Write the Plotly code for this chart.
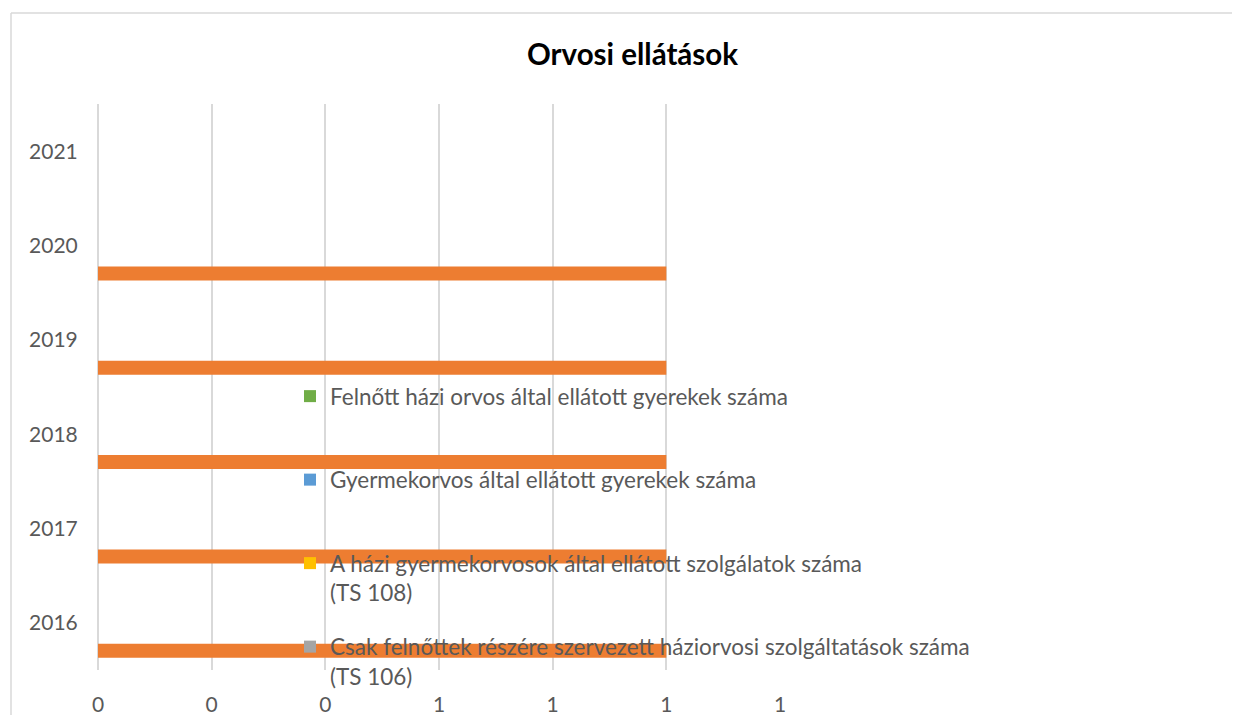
import plotly.graph_objects as go

years = ["2016", "2017", "2018", "2019", "2020", "2021"]

# order: bottom bar first (orange), then the empty series
series_names = [
    "Háziorvosi szolgálatok száma",
    "Felnőtt házi orvos által ellátott gyerekek száma<br> ",
    "Gyermekorvos által ellátott gyerekek száma<br> ",
    "A házi gyermekorvosok által ellátott szolgálatok száma<br>(TS 108)",
    "Csak felnőttek részére szervezett háziorvosi szolgáltatások száma<br>(TS 106)",
]
series_values = [
    [1, 1, 1, 1, 1, None],
    [None, None, None, None, None, None],
    [None, None, None, None, None, None],
    [None, None, None, None, None, None],
    [None, None, None, None, None, None],
]
series_colors = ["#ED7D31", "#70AD47", "#5B9BD5", "#FFC000", "#A5A5A5"]
show_in_legend = [False, True, True, True, True]
legend_ranks = [5, 1, 2, 3, 4]

x_ticks = [0, 0.2, 0.4, 0.6, 0.8, 1.0, 1.2]

FONT = "Lato"
W, H = 1224, 707
# the page body has an 8px margin; coordinates below are figure coordinates
L, R, T, B = 90, 772, 96, 662

fig = go.Figure()
for i, (name, vals, col) in enumerate(zip(series_names, series_values, series_colors)):
    fig.add_trace(go.Bar(
        y=years, x=vals, name=name, orientation="h",
        marker=dict(color=col, line=dict(width=0)),
        legendgroup=f"g{i}", showlegend=show_in_legend[i], legendrank=legend_ranks[i],
    ))

pw, ph = R - L, B - T

border = dict(color="#D9D9D9", width=1.5)
fig.update_layout(
    width=W, height=H,
    margin=dict(l=L, r=W - R, t=T, b=H - B, autoexpand=False),
    paper_bgcolor="white", plot_bgcolor="white",
    barmode="group", bargap=0.26, bargroupgap=0,
    font=dict(family=FONT, size=21, color="#595959"),
    title=dict(text="<b>Orvosi ellátások</b>", x=624.5 / W, xref="container",
               xanchor="center", y=1 - 47 / H, yref="container", yanchor="middle",
               font=dict(family=FONT, size=29.5, color="#000000")),
    showlegend=True,
    legend=dict(
        x=(282 - L) / pw, xanchor="left",
        y=(B - 367) / ph, yanchor="top",
        bgcolor="rgba(0,0,0,0)", borderwidth=0,
        traceorder="grouped", tracegroupgap=22, valign="top",
        font=dict(family=FONT, size=22.5, color="#595959"),
    ),
    xaxis=dict(
        range=[0, 1.2], tickvals=x_ticks, tickformat=".0f",
        showgrid=True, gridcolor="#D9D9D9", gridwidth=1.5,
        zeroline=True, zerolinecolor="#D9D9D9", zerolinewidth=1.5,
        showline=False, ticks="outside", ticklen=16, tickcolor="rgba(0,0,0,0)",
        tickfont=dict(family=FONT, size=21, color="#595959"), fixedrange=True,
    ),
    yaxis=dict(
        type="category", categoryorder="array", categoryarray=years,
        showgrid=False, zeroline=False, showline=False,
        ticks="outside", ticklen=15, tickcolor="rgba(0,0,0,0)",
        tickfont=dict(family=FONT, size=21, color="#595959"), fixedrange=True,
    ),
    shapes=[
        dict(type="line", xref="paper", yref="paper",
             x0=(3 - L) / pw, x1=(1300 - L) / pw,
             y0=(B - 5) / ph, y1=(B - 5) / ph, line=border, layer="below"),
        dict(type="line", xref="paper", yref="paper",
             x0=(3 - L) / pw, x1=(3 - L) / pw,
             y0=(B - 5) / ph, y1=(B - 800) / ph, line=border, layer="below"),
    ],
)

fig.write_html("out.html")
